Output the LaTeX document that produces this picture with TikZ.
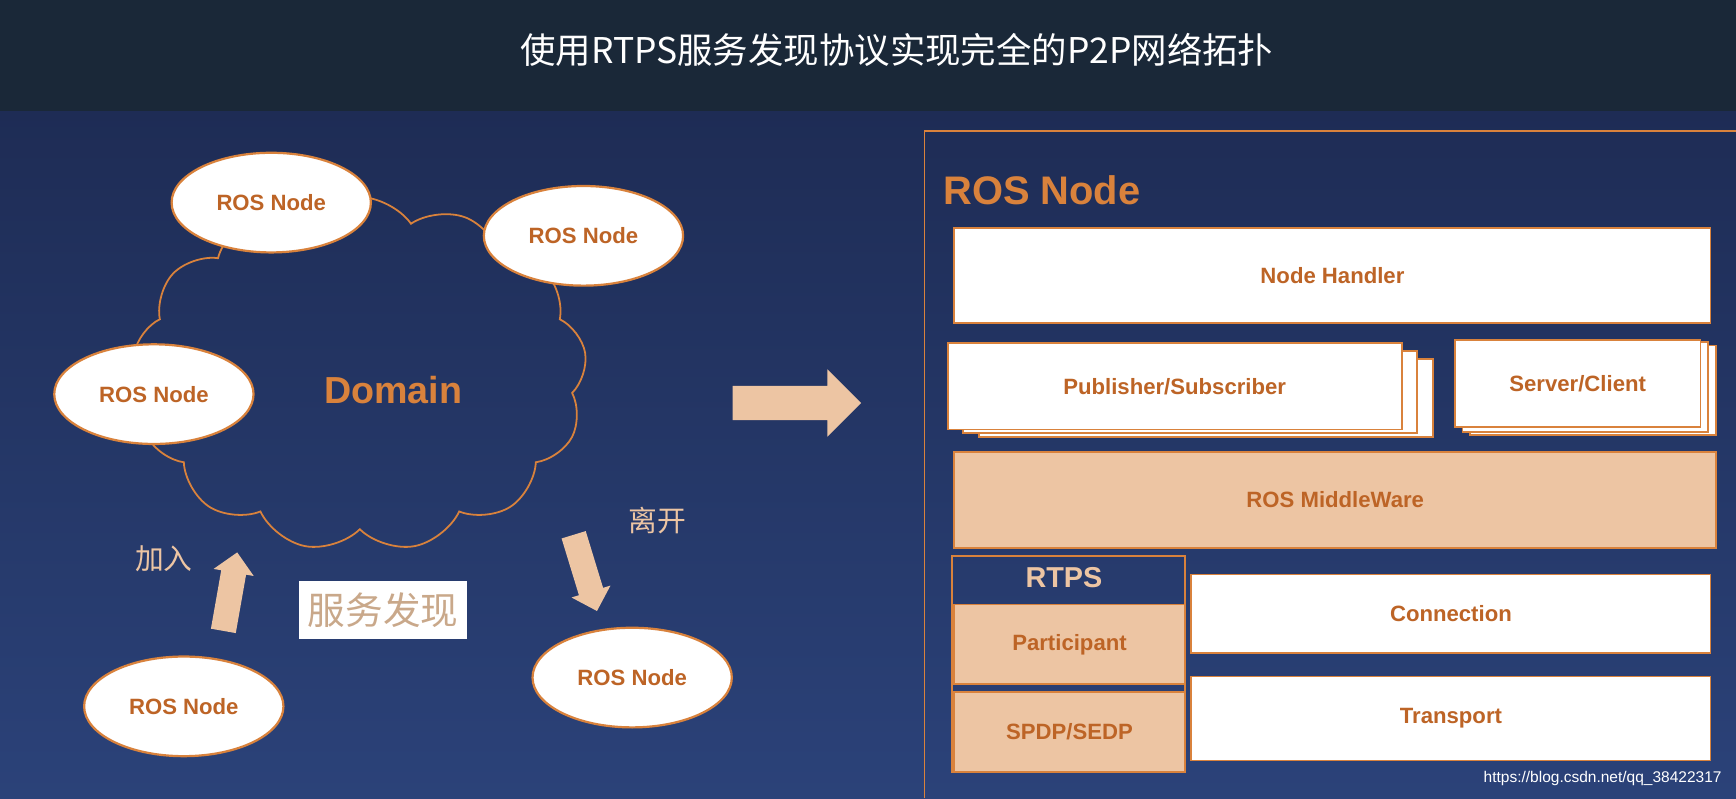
\documentclass[tikz,border=0pt]{standalone}
\usepackage{fontspec}
\setmainfont{Liberation Sans}
\newfontfamily\cjk{Noto Sans CJK SC}
\usetikzlibrary{shapes.symbols,shapes.arrows,shapes.geometric}
\definecolor{org}{HTML}{D9823C}
\definecolor{txt}{HTML}{BD6426}
\definecolor{peach}{HTML}{EDC5A3}
\definecolor{navyA}{HTML}{1E2C55}
\definecolor{navyB}{HTML}{2B4279}
\definecolor{bar}{HTML}{1A2838}
\tikzset{
 rn/.style={ellipse,draw=org,line width=1pt,fill=white,minimum width=90pt,minimum height=45pt,font=\bfseries\fontsize{10}{12}\selectfont,text=txt},
 box/.style={draw=org,line width=0.8pt,fill=white,font=\bfseries\fontsize{10}{12}\selectfont,text=txt,inner sep=0},
 pbox/.style={box,fill=peach},
 bigarr/.style={single arrow,fill=peach,draw=none,single arrow head extend=7.5pt,minimum height=58pt,inner xsep=0pt,inner ysep=7.5pt,text height=0pt,text depth=0pt},
 smarr/.style={single arrow,fill=peach,draw=none,single arrow head extend=3.5pt,minimum height=36pt,inner xsep=0pt,inner ysep=5.5pt,text height=0pt,text depth=0pt},
}
\begin{document}
\begin{tikzpicture}[x=0.5pt,y=-0.5pt]
\useasboundingbox (0,0) rectangle (1568,721);
\shade[top color=navyA,bottom color=navyB] (0,100) rectangle (1568,721);
\fill[bar] (0,0) rectangle (1568,100);
\node[text=white,font=\cjk\fontsize{16}{18}\selectfont] (title) at (810,45) {使用RTPS服务发现协议实现完全的P2P网络拓扑};
% cloud
\node[cloud,cloud puffs=13,cloud puff arc=110,draw=org,line width=0.8pt,minimum width=205pt,minimum height=160pt,aspect=1.3] (cloud) at (325,338) {};
\node[text=org,font=\bfseries\fontsize{17}{20}\selectfont] (domain) at (355,352) {Domain};
\node[rn] (n1) at (245,183) {ROS Node};
\node[rn] (n2) at (527,213) {ROS Node};
\node[rn] (n3) at (139,356) {ROS Node};
\node[rn] (n4) at (166,638) {ROS Node};
\node[rn] (n5) at (571,612) {ROS Node};
\node[bigarr] (ra) at (712,364) {};
\node[smarr,rotate=80] (ua) at (207,540) {};
\node[smarr,rotate=-73] (da) at (527,512) {};
\node[text=peach,font=\cjk\fontsize{13}{15}\selectfont] (join) at (148,505) {加入};
\node[text=peach,font=\cjk\fontsize{13}{15}\selectfont] (leave) at (594,470) {离开};
\node[fill=white,text=peach!85!black,font=\cjk\fontsize{17}{19}\selectfont,minimum width=76pt,minimum height=26pt,inner sep=0] (sd) at (346,551) {服务发现};
% right
\draw[org,line width=0.8pt] (835,721) -- (835,118) -- (1568,118);
\node[text=org,font=\bfseries\fontsize{18}{21}\selectfont,anchor=west] (rnt) at (845,172) {ROS Node};
\node[box,minimum width=341.5pt,minimum height=43pt] (nh) at (1203.5,249) {Node Handler};
\draw[box] (884,324) rectangle (1294,395);
\draw[box] (870,317) rectangle (1280,391);
\node[box,minimum width=205pt,minimum height=39pt] (ps) at (1061,349) {Publisher/Subscriber};
\draw[box] (1328,312) rectangle (1550,393);
\draw[box] (1321,309) rectangle (1543,390);
\node[box,minimum width=111pt,minimum height=39.5pt] (sc) at (1425,346.5) {Server/Client};
\node[pbox,minimum width=344pt,minimum height=43.5pt] (mw) at (1206,451.5) {ROS MiddleWare};
\draw[org,line width=0.8pt] (860,502) rectangle (1070,697);
\node[text=peach,font=\bfseries\fontsize{13}{15}\selectfont] (rtps) at (961,522) {RTPS};
\node[pbox,minimum width=104pt,minimum height=36pt] (pa) at (966,582) {Participant};
\node[pbox,minimum width=104pt,minimum height=36pt] (sp) at (966,661) {SPDP/SEDP};
\node[box,minimum width=234.5pt,minimum height=35.5pt] (co) at (1310.5,554.5) {Connection};
\node[box,minimum width=234.5pt,minimum height=38pt] (tr) at (1310.5,649) {Transport};
\node[text=white,font=\fontsize{7}{8}\selectfont,anchor=east] (wm) at (1562,703) {https://blog.csdn.net/qq\_38422317};
\end{tikzpicture}
\end{document}
